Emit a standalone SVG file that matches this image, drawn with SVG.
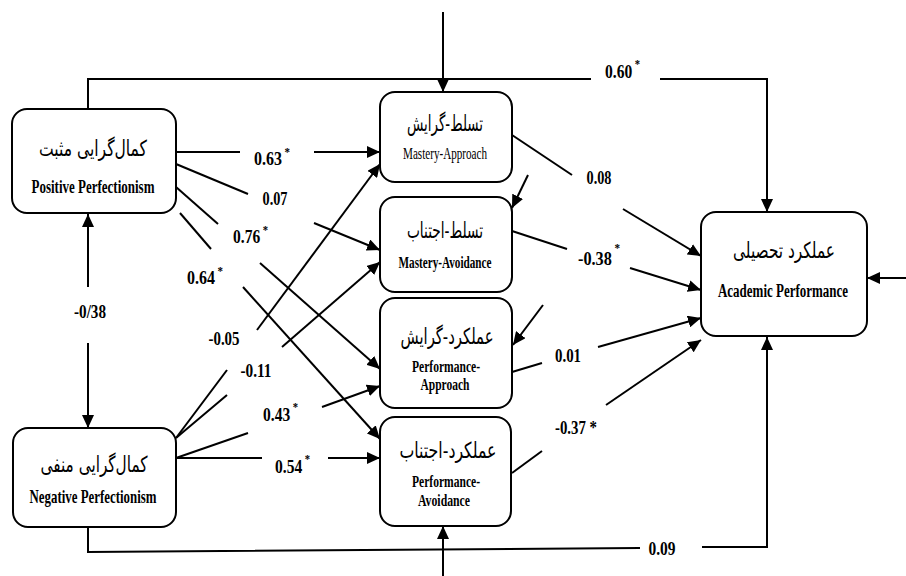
<svg xmlns="http://www.w3.org/2000/svg" width="906" height="576" viewBox="0 0 906 576">
<style>
.box{fill:#fff;stroke:#000;stroke-width:2}
.ln{fill:none;stroke:#000;stroke-width:2}
.arr{marker-end:url(#ah)}
.en{font-family:"Liberation Serif","Times New Roman",serif;font-weight:bold;font-size:19px;text-anchor:middle;fill:#000}
.enr{font-family:"Liberation Serif","Times New Roman",serif;font-size:16px;text-anchor:middle;fill:#000}
.fa{font-family:"DejaVu Sans",sans-serif;font-size:22px;text-anchor:middle;fill:#000}
.num{font-family:"Liberation Serif","Times New Roman",serif;font-weight:bold;font-size:19px;text-anchor:middle;fill:#000}
.numl{font-family:"Liberation Serif","Times New Roman",serif;font-weight:bold;font-size:19px;text-anchor:start;fill:#000}
.sup{font-size:13px}
</style>
<defs>
<marker id="ah" markerUnits="userSpaceOnUse" markerWidth="14" markerHeight="12" refX="13" refY="6" orient="auto">
<path d="M0,0 L13,6 L0,12 z" fill="#000"/>
</marker>
</defs>
<rect width="906" height="576" fill="#fff"/>

<g id="connectors">
<line class="ln" x1="176" y1="152" x2="240" y2="152"/>
<line class="ln arr" x1="314" y1="152" x2="380" y2="152"/>
<line class="ln" x1="176" y1="164" x2="248" y2="194"/>
<line class="ln arr" x1="314" y1="223" x2="380" y2="250"/>
<line class="ln" x1="176" y1="187" x2="218" y2="224"/>
<line class="ln arr" x1="260" y1="263" x2="380" y2="369"/>
<line class="ln" x1="180" y1="213" x2="211" y2="249"/>
<line class="ln arr" x1="243" y1="287" x2="380" y2="439"/>
<line class="ln" x1="176" y1="438" x2="227" y2="370"/>
<line class="ln arr" x1="257" y1="330" x2="380" y2="164"/>
<line class="ln" x1="176" y1="438" x2="227" y2="395"/>
<line class="ln arr" x1="282" y1="347" x2="380" y2="262"/>
<line class="ln" x1="176" y1="458" x2="248" y2="433"/>
<line class="ln arr" x1="322" y1="407" x2="380" y2="386"/>
<line class="ln" x1="176" y1="458" x2="262" y2="458"/>
<line class="ln arr" x1="328" y1="458" x2="380" y2="458"/>
<line class="ln arr" x1="88" y1="287" x2="88" y2="214"/>
<line class="ln arr" x1="88" y1="343" x2="88" y2="428"/>
<polyline class="ln" points="88,109 88,79 591,79"/>
<polyline class="ln arr" points="660,79 767,79 767,212"/>
<polyline class="ln" points="88,527 88,552 640,548"/>
<polyline class="ln arr" points="702,547 767,547 767,337"/>
<line class="ln" x1="512" y1="135" x2="572" y2="175"/>
<line class="ln arr" x1="623" y1="209" x2="701" y2="256"/>
<line class="ln" x1="512" y1="231" x2="567" y2="249"/>
<line class="ln arr" x1="630" y1="268" x2="701" y2="290"/>
<line class="ln" x1="512" y1="372" x2="542" y2="363"/>
<line class="ln arr" x1="598" y1="347" x2="701" y2="318"/>
<line class="ln" x1="512" y1="473" x2="542" y2="451"/>
<line class="ln arr" x1="606" y1="405" x2="701" y2="340"/>
<line class="ln arr" x1="443" y1="12" x2="443" y2="92"/>
<line class="ln arr" x1="443" y1="576" x2="443" y2="526"/>
<line class="ln arr" x1="906" y1="278" x2="867" y2="278"/>
<line class="ln arr" x1="528" y1="175" x2="512" y2="208"/>
<line class="ln arr" x1="543" y1="305" x2="513" y2="345"/>
</g>

<g id="labels">
<text class="numl" x="254" y="165" textLength="36" lengthAdjust="spacingAndGlyphs">0.63<tspan class="sup" dx="3" dy="-9">*</tspan></text>
<text class="num" x="275" y="205" textLength="25" lengthAdjust="spacingAndGlyphs">0.07</text>
<text class="numl" x="233" y="243" textLength="35" lengthAdjust="spacingAndGlyphs">0.76<tspan class="sup" dx="3" dy="-9">*</tspan></text>
<text class="numl" x="187" y="284" textLength="36" lengthAdjust="spacingAndGlyphs">0.64<tspan class="sup" dx="3" dy="-9">*</tspan></text>
<text class="num" x="224" y="345" textLength="31" lengthAdjust="spacingAndGlyphs">-0.05</text>
<text class="num" x="256" y="377" textLength="31" lengthAdjust="spacingAndGlyphs">-0.11</text>
<text class="numl" x="263" y="421" textLength="35" lengthAdjust="spacingAndGlyphs">0.43<tspan class="sup" dx="3" dy="-10">*</tspan></text>
<text class="numl" x="275" y="473" textLength="35" lengthAdjust="spacingAndGlyphs">0.54<tspan class="sup" dx="3" dy="-10">*</tspan></text>
<text class="num" x="90" y="318" textLength="32" lengthAdjust="spacingAndGlyphs">-0/38</text>
<text class="numl" x="605" y="78" textLength="35" lengthAdjust="spacingAndGlyphs">0.60<tspan class="sup" dx="3" dy="-10">*</tspan></text>
<text class="num" x="599" y="184" textLength="25" lengthAdjust="spacingAndGlyphs">0.08</text>
<text class="numl" x="578" y="265" textLength="42" lengthAdjust="spacingAndGlyphs">-0.38<tspan class="sup" dx="3" dy="-13">*</tspan></text>
<text class="num" x="568" y="362" textLength="26" lengthAdjust="spacingAndGlyphs">0.01</text>
<text class="num" x="576" y="434" textLength="42" lengthAdjust="spacingAndGlyphs">-0.37 *</text>
<text class="num" x="662" y="555" textLength="27" lengthAdjust="spacingAndGlyphs">0.09</text>
</g>

<g id="positive">
<rect class="box" x="12" y="109" width="164" height="104" rx="15"/>
<text class="fa" x="93" y="156" direction="rtl" textLength="108" lengthAdjust="spacingAndGlyphs">کمال‌گرایی مثبت</text>
<text class="en" x="93" y="193" textLength="123" lengthAdjust="spacingAndGlyphs">Positive Perfectionism</text>
</g>
<g id="negative">
<rect class="box" x="13" y="428" width="163" height="99" rx="15"/>
<text class="fa" x="94" y="472" direction="rtl" textLength="107" lengthAdjust="spacingAndGlyphs">کمال‌گرایی منفی</text>
<text class="en" x="93" y="503" textLength="127" lengthAdjust="spacingAndGlyphs">Negative Perfectionism</text>
</g>
<g id="mastery-approach">
<rect class="box" x="380" y="92" width="132" height="90" rx="15"/>
<text class="fa" x="445" y="131" direction="rtl" textLength="76" lengthAdjust="spacingAndGlyphs">تسلط-گرایش</text>
<text class="enr" x="445" y="159" textLength="84" lengthAdjust="spacingAndGlyphs">Mastery-Approach</text>
</g>
<g id="mastery-avoidance">
<rect class="box" x="380" y="197" width="132" height="95" rx="15"/>
<text class="fa" x="445" y="238" direction="rtl" textLength="76" lengthAdjust="spacingAndGlyphs">تسلط-اجتناب</text>
<text class="en" x="445" y="268" style="font-size:16px" textLength="93" lengthAdjust="spacingAndGlyphs">Mastery-Avoidance</text>
</g>
<g id="performance-approach">
<rect class="box" x="380" y="298" width="132" height="110" rx="15"/>
<text class="fa" x="447" y="344" direction="rtl" textLength="93" lengthAdjust="spacingAndGlyphs">عملکرد-گرایش</text>
<text class="en" x="446" y="372" style="font-size:16px" textLength="68" lengthAdjust="spacingAndGlyphs">Performance-</text>
<text class="en" x="445" y="390" style="font-size:16px" textLength="49" lengthAdjust="spacingAndGlyphs">Approach</text>
</g>
<g id="performance-avoidance">
<rect class="box" x="380" y="417" width="131" height="109" rx="15"/>
<text class="fa" x="448" y="458" direction="rtl" textLength="97" lengthAdjust="spacingAndGlyphs">عملکرد-اجتناب</text>
<text class="en" x="446" y="487" style="font-size:16px" textLength="68" lengthAdjust="spacingAndGlyphs">Performance-</text>
<text class="en" x="444" y="506" style="font-size:16px" textLength="52" lengthAdjust="spacingAndGlyphs">Avoidance</text>
</g>
<g id="academic">
<rect class="box" x="701" y="212" width="166" height="124" rx="15"/>
<text class="fa" x="784" y="258" direction="rtl" textLength="102" lengthAdjust="spacingAndGlyphs">عملکرد تحصیلی</text>
<text class="en" x="783" y="297" style="font-size:18px" textLength="130" lengthAdjust="spacingAndGlyphs">Academic Performance</text>
</g>
</svg>
